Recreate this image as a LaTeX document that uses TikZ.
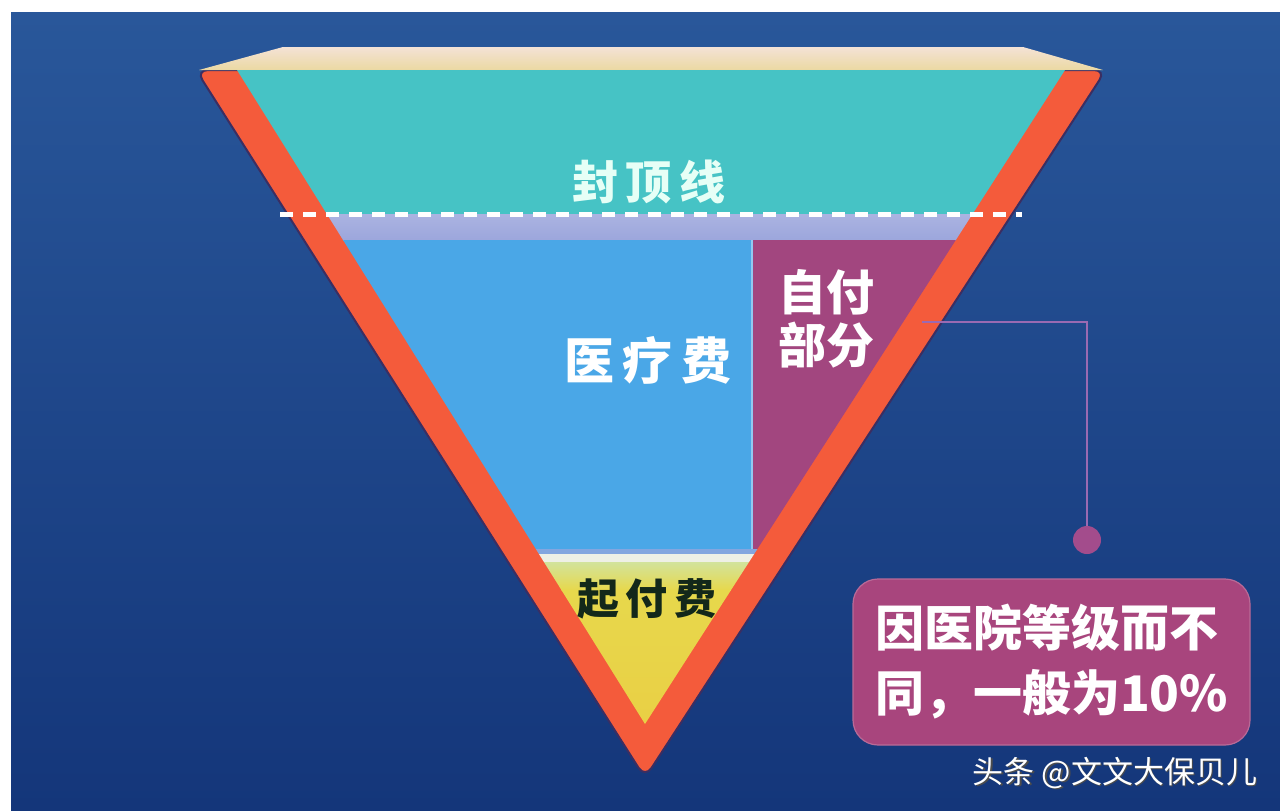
\documentclass[tikz,border=0pt]{standalone}
\usepackage{fontspec}
\newfontfamily\cjk{Noto Sans CJK SC}
\definecolor{bgtop}{HTML}{29579A}
\definecolor{bgbot}{HTML}{14367A}
\definecolor{funnel}{HTML}{F45B3B}
\definecolor{rimdark}{HTML}{3B2E62}
\definecolor{lidtop}{HTML}{F4E2D6}
\definecolor{lidbot}{HTML}{EBD9A2}
\definecolor{teal}{HTML}{46C3C5}
\definecolor{lavender}{HTML}{9CA6DC}
\definecolor{medblue}{HTML}{4AA7E7}
\definecolor{selfpay}{HTML}{A2467F}
\definecolor{paleline}{HTML}{EEF0E6}
\definecolor{palegreen}{HTML}{D2E39C}
\definecolor{deduct}{HTML}{E7D84C}
\definecolor{mint}{HTML}{E6FFF6}
\definecolor{darktext}{HTML}{13281A}
\definecolor{callline}{HTML}{9A6AB2}
\definecolor{calldot}{HTML}{A34C8C}
\definecolor{boxfill}{HTML}{A8457D}
\begin{document}
\begin{tikzpicture}[x=0.5pt,y=-0.5pt,
  lbl/.style={font=\cjk\bfseries\fontsize{#1}{#1}\selectfont, inner sep=0pt, align=center},
  lbl/.default=24,
  twoline/.style={font=\cjk\bfseries\fontsize{24}{26.5}\selectfont, inner sep=0pt, align=center},
  wmark/.style={font=\cjk\fontsize{15.5}{15.5}\selectfont, inner sep=0pt},
  calloutline/.style={draw=callline, line width=1pt},
  dotmark/.style={circle, fill=calldot, minimum size=14pt, inner sep=0pt},
  notebox/.style={rounded corners=12.5pt, fill=boxfill, draw=boxfill!80!white, line width=0.6pt,
     minimum width=198.5pt, minimum height=83pt, inner xsep=11pt, text width=176.5pt, align=left,
     text=white, font=\cjk\bfseries\fontsize{24.5}{32.5}\selectfont},
  dashline/.style={draw=white, line width=2.5pt, dash pattern=on 6.5pt off 5pt}
]
\useasboundingbox (0,0) rectangle (1280,810);
\fill[white] (0,0) rectangle (1280,810);
\shade[top color=bgtop, bottom color=bgbot] (11,12) rectangle (1280,810);

% outer funnel (orange rim)
\fill[funnel, draw=rimdark, line width=1pt, rounded corners=6pt] (196,70) -- (1106,70) -- (645,778) -- cycle;

% lid on top
\shade[top color=lidtop, bottom color=lidbot] (199,70) -- (283,47) -- (1023,47) -- (1103,70) -- cycle;

% inner layers
\begin{scope}
  \clip (237,70) -- (1065,70) -- (645,724) -- cycle;
  \fill[teal] (200,68) rectangle (1100,214);
  \shade[top color=lavender!85!white, bottom color=lavender] (200,214) rectangle (1100,240);
  \fill[medblue] (200,240) rectangle (752,549);
  \fill[selfpay] (752,240) rectangle (1100,549);
  \draw[medblue!60!white, line width=0.8pt] (752,240) -- (752,549);
  \fill[lavender!70!medblue] (200,549) rectangle (1100,554);
  \fill[paleline] (200,554) rectangle (1100,562);
  \shade[top color=palegreen, bottom color=deduct] (200,562) rectangle (1100,590);
  \shade[top color=deduct, bottom color=deduct!90!orange] (200,590) rectangle (1100,730);
\end{scope}

% cap line
\coordinate (capL) at (280,214);
\coordinate (capR) at (1022,214);
\draw[dashline] (capL) -- (capR);

% labels
\node[lbl=23, text=mint] (cap) at (649,182) {封\,顶\,线};
\node[lbl=25, text=white] (med) at (648,360) {医\,疗\,费};
\node[twoline, text=white] (self) at (826,319) {自付\\部分};
\node[lbl=21, text=darktext] (ded) at (647,599) {起\,付\,费};

% callout
\coordinate (cs) at (922,322);
\coordinate (cc) at (1087,322);
\node[dotmark] (dot) at (1087,540) {};
\draw[calloutline] (cs) -- (cc) -- (dot.north);

\node[notebox] (note) at (1051.5,662) {因医院等级而不\\同，一般为10\%};

% watermark
\node[wmark, text=black!70] (wmshadow) at (1116.5,774.5) {头条 @文文大保贝儿};
\node[wmark, text=white] (wm) at (1115,773) {头条 @文文大保贝儿};
\end{tikzpicture}
\end{document}
